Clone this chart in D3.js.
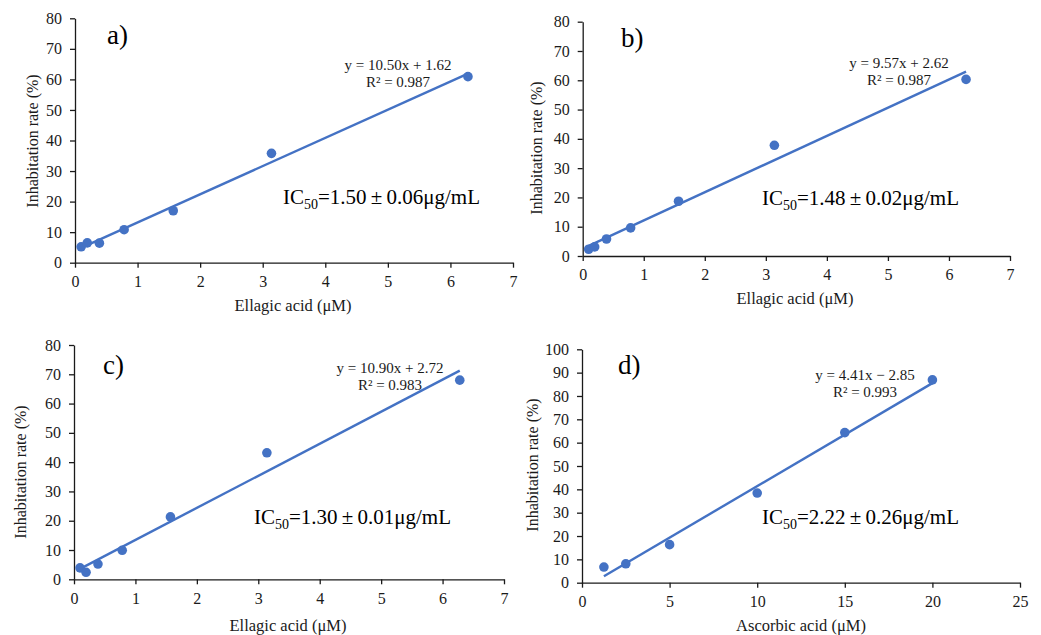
<!DOCTYPE html>
<html>
<head>
<meta charset="utf-8">
<script src="https://cdn.jsdelivr.net/npm/d3@7"></script>
<style>
  html, body { margin: 0; padding: 0; background: #fff; }
  svg text { font-family: "Liberation Serif", "Times New Roman", serif; }
</style>
</head>
<body>
<svg id="chart" width="1041" height="635"></svg>
<script>
// Concentrations tested (µM)
const ellagicDose = [0.098, 0.196, 0.39, 0.785, 1.57, 3.14, 6.28];
const ascorbicDose = [1.25, 2.5, 5, 10, 15, 20];

// Inhibition rate (%) for each panel
const rateA = [5.2, 6.5, 6.4, 10.8, 17.0, 35.8, 60.9];
const rateB = [2.3, 3.1, 5.8, 9.6, 18.7, 37.8, 60.3];
const rateC = [3.9, 2.4, 5.2, 9.9, 21.3, 43.2, 68.0];
const rateD = [6.7, 8.1, 16.3, 38.4, 64.3, 86.9];

// Axis ticks
const ellagicTicks = [0, 1, 2, 3, 4, 5, 6, 7];
const ascorbicTicks = [0, 5, 10, 15, 20, 25];
const rateTicks80 = [0, 10, 20, 30, 40, 50, 60, 70, 80];
const rateTicks100 = [0, 10, 20, 30, 40, 50, 60, 70, 80, 90, 100];

// Text
const panelLabels = ["a)", "b)", "c)", "d)"];
const equationLabels = ["y = 10.50x + 1.62", "y = 9.57x + 2.62", "y = 10.90x + 2.72", "y = 4.41x \u2212 2.85"];
const r2Labels = ["R\u00b2 = 0.987", "R\u00b2 = 0.987", "R\u00b2 = 0.983", "R\u00b2 = 0.993"];
const ic50Labels = ["=1.50\u2009\u00b1\u20090.06\u03bcg/mL", "=1.48\u2009\u00b1\u20090.02\u03bcg/mL", "=1.30\u2009\u00b1\u20090.01\u03bcg/mL", "=2.22\u2009\u00b1\u20090.26\u03bcg/mL"];
const xTitles = ["Ellagic acid (\u03bcM)", "Ellagic acid (\u03bcM)", "Ellagic acid (\u03bcM)", "Ascorbic acid (\u03bcM)"];
const yTitle = "Inhabitation rate (%)";

const panels = [
  { x: ellagicDose, y: rateA, xTicks: ellagicTicks, yTicks: rateTicks80,
    box: { l: 75, r: 513, t: 18.3, b: 262.7 },
    tag: [107, 44], eq: [398, 70], ic: [283, 204], yt: [32, 141], xt: [293, 311] },
  { x: ellagicDose, y: rateB, xTicks: ellagicTicks, yTicks: rateTicks80,
    box: { l: 582.7, r: 1010, t: 21.7, b: 256 },
    tag: [621, 47], eq: [899, 68], ic: [762, 205], yt: [536, 148], xt: [795, 304] },
  { x: ellagicDose, y: rateC, xTicks: ellagicTicks, yTicks: rateTicks80,
    box: { l: 74, r: 504, t: 345, b: 579.3 },
    tag: [103, 374], eq: [390, 373], ic: [254, 524], yt: [20, 472], xt: [288, 631] },
  { x: ascorbicDose, y: rateD, xTicks: ascorbicTicks, yTicks: rateTicks100,
    box: { l: 582, r: 1020, t: 349.3, b: 582.7 },
    tag: [618, 374], eq: [865, 380], ic: [762, 524], yt: [532, 465], xt: [801, 631] }
];

const blue = "#4472C4";
const ink = "#1a1a1a";
const serif = "Liberation Serif, Times New Roman, serif";
const svg = d3.select("#chart");

// Ordinary least-squares fit through the measured points
function linearFit(xs, ys) {
  const mx = d3.mean(xs), my = d3.mean(ys);
  const sxy = d3.sum(xs, (v, i) => (v - mx) * (ys[i] - my));
  const sxx = d3.sum(xs, v => (v - mx) * (v - mx));
  const slope = sxy / sxx;
  return { slope, intercept: my - slope * mx };
}

panels.forEach((p, i) => {
  const g = svg.append("g").attr("font-family", serif);
  const xs = d3.scaleLinear()
    .domain(d3.extent(p.xTicks))
    .range([p.box.l, p.box.r]);
  const ys = d3.scaleLinear()
    .domain(d3.extent(p.yTicks))
    .range([p.box.b, p.box.t]);

  const xAxis = g.append("g")
    .attr("transform", `translate(0,${p.box.b})`)
    .call(d3.axisBottom(xs).tickValues(p.xTicks).tickFormat(d3.format("d"))
      .tickSizeInner(5).tickSizeOuter(0).tickPadding(8));
  const yAxis = g.append("g")
    .attr("transform", `translate(${p.box.l},0)`)
    .call(d3.axisLeft(ys).tickValues(p.yTicks).tickFormat(d3.format("d"))
      .tickSizeInner(5).tickSizeOuter(0).tickPadding(8));
  [xAxis, yAxis].forEach(a => {
    a.attr("font-family", serif).attr("font-size", 16);
    a.select(".domain").attr("stroke", ink).attr("stroke-width", 1.3);
    a.selectAll(".tick line").attr("stroke", ink).attr("stroke-width", 1.3);
    a.selectAll(".tick text").attr("fill", ink);
  });

  // Trend line across the tested range
  const fit = linearFit(p.x, p.y);
  const [x0, x1] = d3.extent(p.x);
  g.append("path")
    .datum([x0, x1])
    .attr("d", d3.line().x(d => xs(d)).y(d => ys(fit.slope * d + fit.intercept)))
    .attr("stroke", blue).attr("stroke-width", 2.4).attr("fill", "none");

  // Measured points
  g.selectAll("circle.pt")
    .data(p.x.map((v, k) => [v, p.y[k]]))
    .join("circle")
    .attr("class", "pt")
    .attr("cx", d => xs(d[0])).attr("cy", d => ys(d[1]))
    .attr("r", 4.8).attr("fill", blue);

  // Panel tag
  g.append("text")
    .attr("x", p.tag[0]).attr("y", p.tag[1])
    .attr("fill", "#000").attr("font-size", 27)
    .text(panelLabels[i]);

  // Regression equation and R²
  g.append("text")
    .attr("x", p.eq[0]).attr("y", p.eq[1])
    .attr("text-anchor", "middle").attr("fill", ink).attr("font-size", 15)
    .text(equationLabels[i]);
  g.append("text")
    .attr("x", p.eq[0]).attr("y", p.eq[1] + 17)
    .attr("text-anchor", "middle").attr("fill", ink).attr("font-size", 15)
    .text(r2Labels[i]);

  // IC50 annotation
  const ic = g.append("text")
    .attr("x", p.ic[0]).attr("y", p.ic[1])
    .attr("fill", "#000").attr("font-size", 21);
  ic.append("tspan").text("IC");
  ic.append("tspan").attr("dy", 5).attr("font-size", 14).text("50");
  ic.append("tspan").attr("dy", -5).text(ic50Labels[i]);

  // Axis titles
  g.append("text")
    .attr("transform", `translate(${p.yt[0]},${p.yt[1]}) rotate(-90)`)
    .attr("text-anchor", "middle").attr("dy", "0.35em")
    .attr("fill", ink).attr("font-size", 16)
    .text(yTitle);
  g.append("text")
    .attr("x", p.xt[0]).attr("y", p.xt[1])
    .attr("text-anchor", "middle")
    .attr("fill", ink).attr("font-size", 16.5)
    .text(xTitles[i]);
});
</script>
</body>
</html>
